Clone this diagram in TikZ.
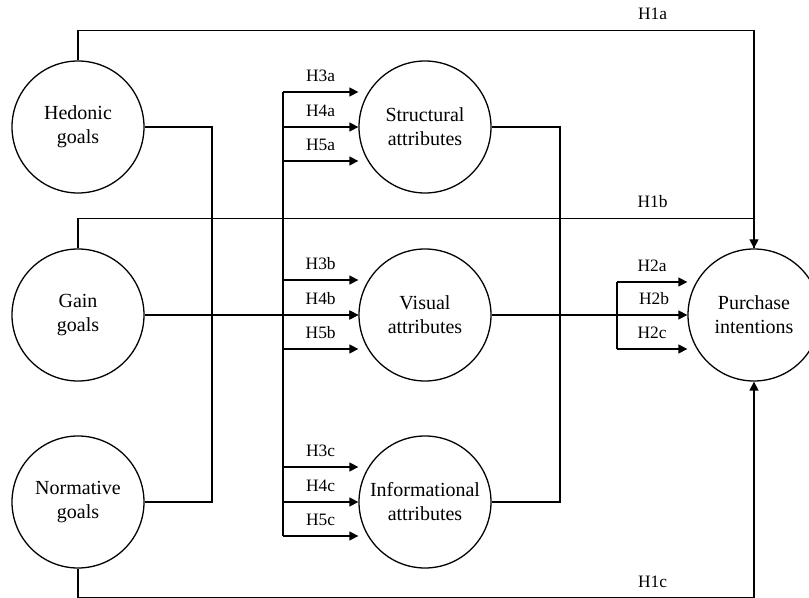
\documentclass[tikz,border=0pt]{standalone}
\usepackage{fontspec}
\setmainfont{Liberation Serif}
\usetikzlibrary{arrows.meta}

\tikzset{
    construct/.style={circle, draw, line width=0.65pt, minimum size=66pt, inner sep=0pt, align=center, font=\fontsize{10}{12}\selectfont},
    link/.style={line width=0.65pt},
    hyp/.style={link, -{Triangle[length=4.5pt, width=4.5pt]}},
    hlabel/.style={font=\fontsize{8.7}{10}\selectfont, above=1.5pt}
}

\begin{document}
\begin{tikzpicture}[x=0.5pt, y=-0.5pt]
            \useasboundingbox (0,0) rectangle (809,598);

            \node[construct] (hedonic) at (78,127) {Hedonic\\goals};
            \node[construct] (gain) at (78,315) {Gain\\goals};
            \node[construct] (normative) at (78,502) {Normative\\goals};

            \node[construct] (structural) at (425,127) {Structural\\attributes};
            \node[construct] (visual) at (425,315) {Visual\\attributes};
            \node[construct] (informational) at (425,502) {Informational\\attributes};

            \node[construct] (purchase) at (754,315) {Purchase\\intentions};

            \coordinate (goalbus) at (212,0);
            \coordinate (attrbus) at (283,0);
            \coordinate (outbus) at (560,0);
            \coordinate (intbus) at (617,0);

            % direct paths to purchase intentions
            \draw[hyp] (hedonic.north) -- ++(0,-30) -| node[hlabel, pos=0.425] {H1a} (purchase.north);
            \draw[link] (gain.north) -- ++(0,-30) -| node[hlabel, pos=0.425] {H1b} (purchase.north);
            \draw[hyp] (normative.south) -- ++(0,29) -| node[hlabel, pos=0.425] {H1c} (purchase.south);

            % goals to attributes
            \draw[link] (hedonic.east) -| (goalbus |- normative.east) -- (normative.east);
            \draw[hyp] (gain.east) -- (visual.west);
            \draw[link] ([yshift=17.5pt]structural.west -| attrbus) -- ([yshift=-17pt]informational.west -| attrbus);

            \foreach \n/\s in {structural/a, visual/b, informational/c} {
                \foreach \dy/\h in {17.5pt/3, 0pt/4, -17pt/5} {
                    \draw[hyp] ([yshift=\dy]\n.west -| attrbus) -- node[hlabel] {H\h\s} ([yshift=\dy]\n.west);
                }
            }

            % attributes to purchase intentions
            \draw[link] (structural.east) -| (outbus |- informational.east) -- (informational.east);
            \draw[hyp] (visual.east) -- node[hlabel, pos=0.83] {H2b} (purchase.west);
            \draw[link] ([yshift=16.5pt]purchase.west -| intbus) -- ([yshift=-17pt]purchase.west -| intbus);
            \foreach \dy/\s in {16.5pt/a, -17pt/c} {
                \draw[hyp] ([yshift=\dy]purchase.west -| intbus) -- node[hlabel] {H2\s} ([yshift=\dy]purchase.west);
            }
\end{tikzpicture}
\end{document}
